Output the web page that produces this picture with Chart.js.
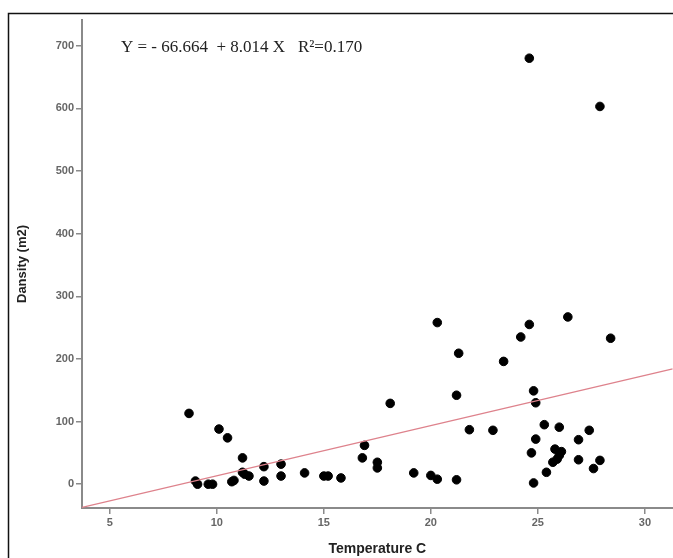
<!DOCTYPE html>
<html>
<head>
<meta charset="utf-8">
<script src="https://cdn.jsdelivr.net/npm/chart.js@4.4.1/dist/chart.umd.min.js"></script>
<style>
  html, body { margin: 0; padding: 0; background: #fff; overflow: hidden; }
  #wrap { width: 678px; height: 558px; position: relative; }
</style>
</head>
<body>
<div id="wrap"><canvas id="chart"></canvas></div>
<script>
// temperature (C) and density (m2) of each sample
const temperature = [
    8.7, 10.1, 10.5, 9.0, 9.1, 9.6, 9.8, 10.7, 10.8, 11.2,
    11.2, 11.3, 11.5, 12.2, 12.2, 13.0, 13.0, 14.1, 15.0, 15.2,
    15.8, 16.8, 16.9, 17.5, 17.5, 18.1, 19.2, 20.0, 20.3, 20.3,
    21.2, 21.2, 21.3, 21.8, 22.9, 23.4, 24.2, 24.6, 24.8, 24.9,
    24.7, 24.9, 24.8, 25.3, 25.4, 26.0, 25.8, 26.1, 26.0, 25.7,
    25.9, 26.4, 26.9, 26.9, 27.4, 27.6, 27.9, 28.4, 24.6, 27.9
];
const density = [
    113, 88, 74, 5, 0, 0, 0, 4, 6, 42,
    19, 16, 13, 28, 5, 32, 13, 18, 13, 13,
    10, 42, 62, 35, 26, 129, 18, 14, 8, 258,
    7, 142, 209, 87, 86, 196, 235, 255, 149, 130,
    50, 72, 2, 95, 19, 91, 56, 52, 46, 35,
    40, 267, 71, 39, 86, 25, 38, 233, 680, 603
];

const xTicks = [5, 10, 15, 20, 25, 30];
const yTicks = [0, 100, 200, 300, 400, 500, 600, 700];

// fitted line  Y = a + b X
const intercept = -66.664;
const slope = 8.014;
const rSquared = 0.170;

const xMin = 3.7, xMax = 31.3;
const yMin = -38, yMax = 741;

const points = temperature.map((t, i) => ({ x: t, y: density[i] }));
const fitLine = [xMin, xMax].map(x => ({ x: x, y: intercept + slope * x }));

const tickFont = { family: 'Liberation Sans, Arial, sans-serif', size: 11, weight: 'bold' };
const axisGray = '#8a8a8a';

const extras = {
    id: 'extras',
    afterDraw(chart) {
        const ctx = chart.ctx;
        ctx.save();
        // outer frame
        ctx.strokeStyle = '#111';
        ctx.lineWidth = 1.5;
        ctx.strokeRect(8.5, 13.5, 720, 620);
        // equation
        ctx.fillStyle = '#222';
        ctx.font = '17px "Liberation Serif", "Times New Roman", serif';
        ctx.textBaseline = 'alphabetic';
        ctx.fillText('Y = - ' + Math.abs(intercept).toFixed(3) + '  + ' + slope.toFixed(3) + ' X   R\u00b2=' + rSquared.toFixed(3), 121, 52);
        ctx.restore();
    }
};

new Chart(document.getElementById('chart'), {
    type: 'scatter',
    data: {
        datasets: [
            {
                label: 'fit',
                type: 'line',
                data: fitLine,
                borderColor: 'rgb(222, 130, 140)',
                borderWidth: 1.3,
                pointRadius: 0,
                fill: false
            },
            {
                label: 'samples',
                data: points,
                backgroundColor: '#000',
                borderColor: '#000',
                pointRadius: 4.3,
                pointHoverRadius: 4.3
            }
        ]
    },
    options: {
        responsive: true,
        maintainAspectRatio: false,
        animation: false,
        layout: { padding: { left: 15, top: 20, right: 0, bottom: 0 } },
        plugins: {
            legend: { display: false },
            tooltip: { enabled: false }
        },
        scales: {
            x: {
                type: 'linear',
                min: xMin,
                max: xMax,
                afterBuildTicks: s => { s.ticks = xTicks.map(v => ({ value: v })); },
                afterFit: s => { s.height = 50; },
                grid: { drawOnChartArea: false, drawTicks: true, tickLength: 6, color: axisGray, lineWidth: 1.5 },
                border: { color: axisGray, width: 2 },
                ticks: { color: '#666', font: tickFont, padding: 2 },
                title: {
                    display: true,
                    text: 'Temperature C',
                    color: '#222',
                    font: { family: 'Liberation Sans, Arial, sans-serif', size: 14, weight: 'bold' },
                    padding: { top: 4, bottom: 0 }
                }
            },
            y: {
                min: yMin,
                max: yMax,
                afterBuildTicks: s => { s.ticks = yTicks.map(v => ({ value: v })); },
                afterFit: s => { s.width = 67; },
                grid: { drawOnChartArea: false, drawTicks: true, tickLength: 6, color: axisGray, lineWidth: 1.5 },
                border: { color: axisGray, width: 2 },
                ticks: { color: '#666', font: tickFont, padding: 2 },
                title: {
                    display: true,
                    text: 'Dansity (m2)',
                    color: '#222',
                    font: { family: 'Liberation Sans, Arial, sans-serif', size: 13, weight: 'bold' },
                    padding: { top: 0, bottom: 0 }
                }
            }
        }
    },
    plugins: [extras]
});
</script>
</body>
</html>
